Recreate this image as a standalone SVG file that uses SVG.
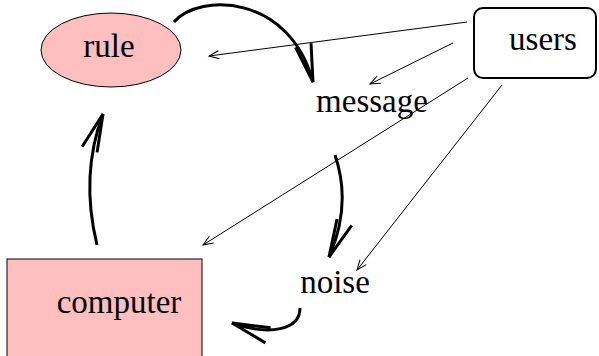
<svg xmlns="http://www.w3.org/2000/svg" width="599" height="356" viewBox="0 0 599 356">
<style>
text{font-family:'Liberation Serif',Tinos,'Times New Roman',Times,serif;font-size:33px;fill:#000;text-anchor:middle}
.thick{fill:none;stroke:#000;stroke-width:3}
.thin{fill:none;stroke:#000;stroke-width:1}
</style>
<defs>
<marker id="big" markerUnits="userSpaceOnUse" markerWidth="42" markerHeight="20" refX="38" refY="8" orient="auto" overflow="visible">
<path d="M0,0 L38,8 L0,16" fill="none" stroke="#000" stroke-width="3"/>
</marker>
<marker id="small" markerUnits="userSpaceOnUse" markerWidth="12" markerHeight="10" refX="10" refY="4" orient="auto" overflow="visible">
<path d="M0,0 L10,4 L0,8" fill="none" stroke="#000" stroke-width="1"/>
</marker>
</defs>
<g id="rule">
<ellipse cx="111" cy="50" rx="70" ry="37" fill="#ffbfbf" stroke="#000" stroke-width="1"/>
<text x="109" y="57" font-family="Liberation Serif">rule</text>
</g>
<g id="users">
<rect x="474" y="8" width="122" height="70" rx="9" fill="#fff" stroke="#000" stroke-width="2"/>
<text x="543" y="50" font-family="Liberation Serif">users</text>
</g>
<g id="message">
<text x="372" y="112" font-family="Liberation Serif">message</text>
</g>
<g id="noise">
<text x="335" y="293" font-family="Liberation Serif">noise</text>
</g>
<g id="computer">
<rect x="7" y="259" width="195" height="100" fill="#ffbfbf" stroke="#000" stroke-width="1"/>
<text x="119" y="313" font-family="Liberation Serif">computer</text>
</g>
<g id="connectors">
<path class="thick" d="M174,22 C200,-8 290,-5 313,82" marker-end="url(#big)"/>
<path class="thick" d="M335,155 Q352,205 329,257" marker-end="url(#big)"/>
<path class="thick" d="M300,308 C300,330 270,336 232,323" marker-end="url(#big)"/>
<path class="thick" d="M97,245 Q80,175 103,114" marker-end="url(#big)"/>
<path class="thin" d="M467,22 L209,56" marker-end="url(#small)"/>
<path class="thin" d="M453,43 L370,84" marker-end="url(#small)"/>
<path class="thin" d="M468,78 L203,245" marker-end="url(#small)"/>
<path class="thin" d="M502,85 L357,270" marker-end="url(#small)"/>
</g>
</svg>
